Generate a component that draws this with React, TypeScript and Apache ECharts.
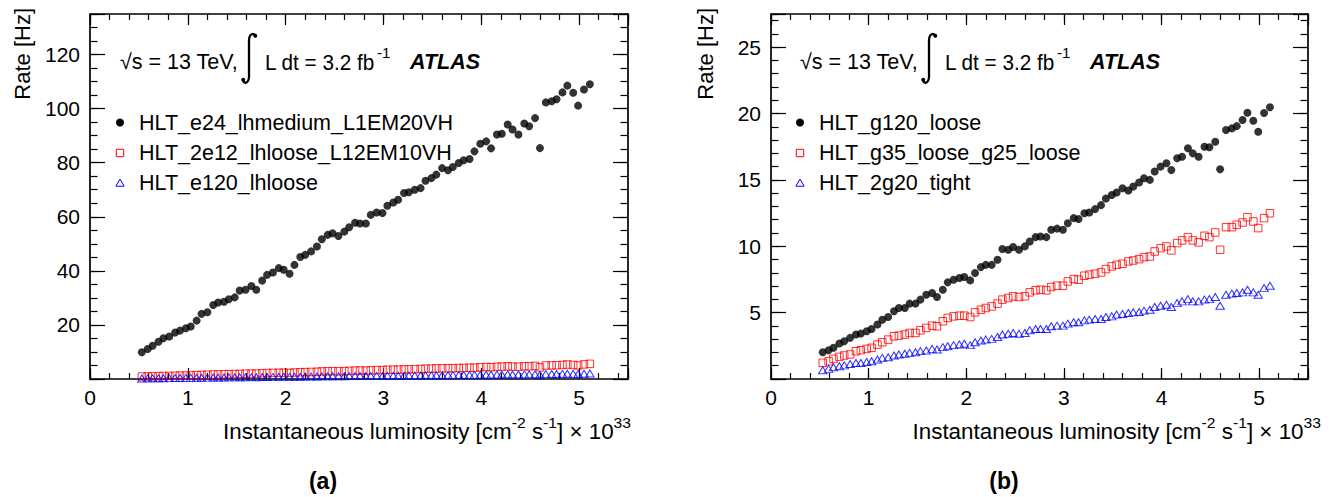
import React, { useEffect, useRef } from "react";
import * as echarts from "echarts";

// ---------- data ----------
const lumi = [
  0.53, 0.59, 0.64, 0.7, 0.75, 0.81, 0.87, 0.92, 0.98, 1.03,
  1.09, 1.14, 1.2, 1.26, 1.31, 1.37, 1.42, 1.48, 1.53, 1.59,
  1.65, 1.7, 1.76, 1.81, 1.87, 1.93, 1.98, 2.04, 2.09, 2.15,
  2.2, 2.26, 2.32, 2.37, 2.43, 2.48, 2.54, 2.6, 2.65, 2.71,
  2.76, 2.82, 2.87, 2.93, 2.99, 3.04, 3.1, 3.15, 3.21, 3.26,
  3.32, 3.38, 3.43, 3.49, 3.54, 3.6, 3.66, 3.71, 3.77, 3.82,
  3.88, 3.93, 3.99, 4.05, 4.1, 4.16, 4.21, 4.27, 4.32, 4.38,
  4.44, 4.49, 4.55, 4.6, 4.66, 4.72, 4.77, 4.83, 4.88, 4.94,
  4.99, 5.05, 5.11,
];

// (a) electron triggers
const eBlack = [
  9.9, 11.1, 12.3, 13.8, 15.1, 15.7, 17.2, 17.9, 18.8, 19.4,
  21.6, 24.1, 24.7, 27.4, 28.3, 28.6, 29.5, 30.2, 32.7, 33.0,
  34.4, 33.0, 36.4, 38.5, 39.4, 41.0, 40.4, 38.9, 42.2, 45.1,
  45.9, 47.2, 49.0, 51.7, 53.3, 53.9, 52.9, 54.5, 56.1, 57.8,
  57.5, 57.5, 60.7, 61.6, 61.4, 64.1, 65.3, 66.3, 68.8, 69.1,
  70.0, 70.6, 73.3, 74.3, 75.6, 78.0, 77.2, 78.4, 79.9, 80.9,
  81.4, 84.2, 87.0, 87.9, 85.3, 90.4, 90.7, 94.1, 92.3, 90.4,
  94.5, 93.5, 96.5, 85.4, 102.3, 102.7, 103.5, 106.0, 108.5, 105.9,
  101.1, 107.1, 109.0,
];
const eRed = [
  0.9, 0.95, 1.0, 1.05, 1.1, 1.15, 1.2, 1.25, 1.3, 1.35,
  1.45, 1.5, 1.55, 1.65, 1.7, 1.75, 1.8, 1.8, 1.9, 1.95,
  2.0, 2.0, 2.1, 2.2, 2.25, 2.3, 2.3, 2.25, 2.4, 2.5,
  2.55, 2.6, 2.65, 2.8, 2.85, 2.9, 2.85, 2.9, 3.0, 3.1,
  3.15, 3.1, 3.2, 3.3, 3.3, 3.4, 3.45, 3.45, 3.55, 3.6,
  3.65, 3.7, 3.8, 3.85, 3.9, 3.95, 3.95, 4.0, 4.05, 4.1,
  4.15, 4.2, 4.35, 4.45, 4.35, 4.5, 4.6, 4.7, 4.6, 4.55,
  4.75, 4.7, 4.85, 4.3, 5.0, 5.05, 5.1, 5.2, 5.35, 5.2,
  5.0, 5.4, 5.6,
];
const eBlue = [
  0.2, 0.22, 0.25, 0.28, 0.3, 0.32, 0.35, 0.37, 0.4, 0.42,
  0.45, 0.48, 0.5, 0.53, 0.55, 0.57, 0.6, 0.6, 0.63, 0.66,
  0.68, 0.66, 0.72, 0.75, 0.77, 0.79, 0.8, 0.78, 0.83, 0.86,
  0.88, 0.9, 0.92, 0.97, 0.98, 1.0, 0.99, 1.01, 1.05, 1.08,
  1.09, 1.08, 1.12, 1.14, 1.13, 1.17, 1.2, 1.19, 1.23, 1.25,
  1.27, 1.3, 1.33, 1.35, 1.38, 1.4, 1.4, 1.42, 1.45, 1.47,
  1.5, 1.52, 1.57, 1.6, 1.55, 1.63, 1.66, 1.7, 1.68, 1.66,
  1.72, 1.72, 1.76, 1.55, 1.82, 1.84, 1.86, 1.9, 1.95, 1.9,
  1.83, 1.97, 2.02,
];

// (b) photon triggers
const gBlack = [
  2.02, 2.17, 2.35, 2.67, 2.84, 3.1, 3.35, 3.42, 3.6, 3.77,
  4.1, 4.47, 4.67, 5.1, 5.35, 5.35, 5.68, 5.68, 5.98, 6.35,
  6.48, 6.18, 6.73, 7.28, 7.48, 7.61, 7.68, 7.43, 7.98, 8.43,
  8.6, 8.6, 8.98, 9.79, 9.74, 9.94, 9.74, 9.99, 10.36, 10.69,
  10.74, 10.69, 11.24, 11.33, 11.24, 11.74, 12.12, 12.05, 12.49, 12.54,
  12.8, 13.1, 13.6, 13.86, 14.05, 14.37, 14.2, 14.5, 14.8, 15.13,
  15.0, 15.63, 16.0, 16.25, 15.74, 16.63, 16.75, 17.38, 17.0, 16.75,
  17.5, 17.46, 17.88, 15.8, 18.76, 18.88, 19.05, 19.51, 20.06, 19.46,
  18.63, 20.04, 20.47,
];
const gRed = [
  1.22, 1.34, 1.52, 1.67, 1.77, 1.85, 2.09, 2.17, 2.27, 2.35,
  2.59, 2.77, 2.97, 3.22, 3.27, 3.35, 3.47, 3.47, 3.67, 3.85,
  4.02, 3.97, 4.35, 4.6, 4.72, 4.77, 4.77, 4.67, 5.02, 5.22,
  5.35, 5.47, 5.68, 5.98, 6.1, 6.23, 6.18, 6.23, 6.53, 6.68,
  6.73, 6.68, 6.93, 7.03, 7.03, 7.35, 7.53, 7.48, 7.78, 7.86,
  7.93, 8.03, 8.28, 8.48, 8.6, 8.68, 8.86, 8.93, 9.03, 9.18,
  9.23, 9.61, 9.86, 9.99, 9.69, 10.24, 10.44, 10.69, 10.44, 10.29,
  10.79, 10.69, 11.04, 9.74, 11.44, 11.44, 11.62, 11.79, 12.19, 11.87,
  11.37, 12.12, 12.49,
];
const gBlue = [
  0.66, 0.76, 0.88, 0.96, 1.03, 1.13, 1.2, 1.2, 1.28, 1.34,
  1.47, 1.59, 1.64, 1.77, 1.85, 1.9, 1.97, 2.02, 2.1, 2.15,
  2.27, 2.22, 2.4, 2.47, 2.55, 2.6, 2.65, 2.55, 2.77, 2.9,
  2.97, 3.02, 3.17, 3.35, 3.4, 3.47, 3.4, 3.47, 3.67, 3.77,
  3.77, 3.77, 3.97, 4.02, 4.02, 4.17, 4.27, 4.27, 4.42, 4.47,
  4.52, 4.52, 4.67, 4.72, 4.85, 4.9, 4.97, 5.02, 5.05, 5.15,
  5.22, 5.42, 5.52, 5.6, 5.42, 5.72, 5.85, 6.02, 5.85, 5.85,
  5.98, 6.02, 6.18, 5.52, 6.35, 6.43, 6.48, 6.53, 6.73, 6.53,
  6.35, 6.85, 7.03,
];

const xTickLabels = [0, 1, 2, 3, 4, 5];
const yTickLabelsA = [20, 40, 60, 80, 100, 120];
const yTickLabelsB = [5, 10, 15, 20, 25];
const legendA = ["HLT_e24_lhmedium_L1EM20VH", "HLT_2e12_lhloose_L12EM10VH", "HLT_e120_lhloose"];
const legendB = ["HLT_g120_loose", "HLT_g35_loose_g25_loose", "HLT_2g20_tight"];

const FONT = "'Liberation Sans', Arial, Helvetica, sans-serif";
const FS = 21.5;

echarts.graphic.registerShape(
  "integral",
  echarts.graphic.extendPath("M 0 47 C 1 51.5 5.5 50.5 6 44 L 6 7 C 6.5 0.5 10.5 -0.5 12.5 3", {}) as any
);

export default function App() {
  const ref = useRef<HTMLDivElement>(null);
  useEffect(() => {
    const el = ref.current!;
    const chart = echarts.init(el, undefined, { renderer: "svg" });
    const ctx = document.createElement("canvas").getContext("2d")!;
    const measure = (t: string, size: number, weight = "normal", style = "normal") => {
      ctx.font = `${style} ${weight} ${size}px ${FONT}`;
      return ctx.measureText(t).width;
    };

    const text = (x: number, y: number, t: string, o: any = {}) => ({
      type: "text",
      x,
      y,
      rotation: o.rot || 0,
      scaleX: o.sx ?? 1,
      scaleY: o.sy ?? 1,
      z: 50,
      style: {
        text: t,
        fill: o.color || "#000",
        fontSize: o.size || FS,
        fontFamily: FONT,
        fontWeight: o.weight || "normal",
        fontStyle: o.fstyle || "normal",
        textAlign: o.align || "left",
        align: o.align || "left",
        textVerticalAlign: "middle",
        verticalAlign: "middle",
      },
    });

    const xTitle = (left: number, right: number) => {
      const segs = [
        { t: "Instantaneous luminosity [cm", sup: false },
        { t: "-2", sup: true },
        { t: " s", sup: false },
        { t: "-1", sup: true },
        { t: "] \u00d7 10", sup: false },
        { t: "33", sup: true },
      ];
      const ws = segs.map((s) => measure(s.t, s.sup ? 15 : FS));
      const total = ws.reduce((a, b) => a + b, 0);
      const sx = (right - left) / total;
      let x = left;
      const out: any[] = [];
      segs.forEach((s, i) => {
        out.push(text(x, s.sup ? 423 : 432, s.t, { size: s.sup ? 15 : FS, sx }));
        x += ws[i] * sx;
      });
      return out;
    };

    const panel = (ox: number, yTitleX: number, names: string[], tl: number, tr: number, lab: string, labX: number) => {
      const els: any[] = [];
      els.push(text(yTitleX, 8, "Rate [Hz]", { rot: Math.PI / 2, align: "right", size: 22 }));
      els.push(text(120 + ox, 62, "\u221as = 13 TeV,"));
      els.push({ type: "integral", x: 243 + ox, y: 33, z: 50, style: { stroke: "#000", lineWidth: 2.3, fill: "none" } });
      els.push({ type: "circle", z: 50, shape: { cx: 243.2 + ox, cy: 79.8, r: 2 }, style: { fill: "#000" } });
      els.push({ type: "circle", z: 50, shape: { cx: 255.3 + ox, cy: 35.8, r: 2 }, style: { fill: "#000" } });
      const ldt = "L dt = 3.2 fb";
      const ldtSx = 110 / measure(ldt, FS);
      els.push(text(265 + ox, 62, ldt, { sx: ldtSx }));
      els.push(text(265 + ox + 110 + 2, 52, "-1", { size: 15 }));
      els.push(text(410 + ox, 62, "ATLAS", { weight: "bold", fstyle: "italic" }));
      const rows = [122.5, 153, 183];
      const mx = 120 + ox;
      els.push({ type: "circle", z: 50, shape: { cx: mx, cy: rows[0], r: 4 }, style: { fill: "#000" } });
      els.push({ type: "rect", z: 50, shape: { x: mx - 3.7, y: rows[1] - 3.7, width: 7.4, height: 7.4 }, style: { fill: "none", stroke: "#ff0000", lineWidth: 1 } });
      els.push({
        type: "polygon",
        z: 50,
        shape: { points: [[mx, rows[2] - 3.8], [mx + 4.2, rows[2] + 3.2], [mx - 4.2, rows[2] + 3.2]] },
        style: { fill: "none", stroke: "#0000ff", lineWidth: 1 },
      });
      names.forEach((n, i) => els.push(text(139 + ox, rows[i], n)));
      els.push(...xTitle(tl, tr));
      els.push(text(labX, 481, lab, { weight: "bold", align: "center", size: 23 }));
      return els;
    };

    const near = (arr: number[], v: number) => arr.some((t) => Math.abs(t - v) < 1e-6);
    const lineStyle = { color: "#000", width: 1.7 };
    const tickStyle = { color: "#000", width: 1.2 };
    const labelStyle = { color: "#000", fontSize: 21, fontFamily: FONT };
    const xAx = (g: number, pos: string, interval: number, len: number, labels: boolean, line: boolean) => ({
      gridIndex: g,
      type: "value",
      position: pos,
      min: 0,
      max: 5.5,
      interval,
      axisLine: { show: line, onZero: false, lineStyle },
      axisTick: { show: true, inside: true, length: len, lineStyle: tickStyle },
      axisLabel: labels
        ? { show: true, margin: 8, ...labelStyle, formatter: (v: number) => (near(xTickLabels, v) ? String(Math.round(v)) : "") }
        : { show: false },
      splitLine: { show: false },
    });
    const yAx = (g: number, pos: string, max: number, interval: number, len: number, labels: number[] | null, line: boolean) => ({
      gridIndex: g,
      type: "value",
      position: pos,
      min: 0,
      max,
      interval,
      axisLine: { show: line, onZero: false, lineStyle },
      axisTick: { show: true, inside: true, length: len, lineStyle: tickStyle },
      axisLabel: labels
        ? { show: true, margin: 10, ...labelStyle, formatter: (v: number) => (near(labels, v) ? String(Math.round(v)) : "") }
        : { show: false },
      splitLine: { show: false },
    });

    const xAxis: any[] = [];
    const yAxis: any[] = [];
    [0, 1].forEach((g) => {
      xAxis.push(xAx(g, "bottom", 1, 11, true, true));
      xAxis.push(xAx(g, "bottom", 0.2, 6, false, false));
      xAxis.push(xAx(g, "top", 1, 11, false, true));
      xAxis.push(xAx(g, "top", 0.2, 6, false, false));
    });
    yAxis.push(yAx(0, "left", 135, 20, 15, yTickLabelsA, true));
    yAxis.push(yAx(0, "left", 135, 5, 7.5, null, false));
    yAxis.push(yAx(0, "right", 135, 20, 15, null, true));
    yAxis.push(yAx(0, "right", 135, 5, 7.5, null, false));
    yAxis.push(yAx(1, "left", 27.5, 5, 15, yTickLabelsB, true));
    yAxis.push(yAx(1, "left", 27.5, 1, 7.5, null, false));
    yAxis.push(yAx(1, "right", 27.5, 5, 15, null, true));
    yAxis.push(yAx(1, "right", 27.5, 1, 7.5, null, false));

    const pts = (ys: number[]) => lumi.map((x, i) => [x, ys[i]]);
    const dot = (g: number, ys: number[]) => ({
      type: "scatter",
      xAxisIndex: g * 4,
      yAxisIndex: g * 4,
      data: pts(ys),
      symbol: "circle",
      symbolSize: 8,
      itemStyle: { color: "#000" },
      z: 3,
    });
    const sq = (g: number, ys: number[]) => ({
      type: "scatter",
      xAxisIndex: g * 4,
      yAxisIndex: g * 4,
      data: pts(ys),
      symbol: "rect",
      symbolSize: 7.5,
      itemStyle: { color: "rgba(0,0,0,0)", borderColor: "#ff0000", borderWidth: 1 },
      z: 2,
    });
    const tri = (g: number, ys: number[]) => ({
      type: "scatter",
      xAxisIndex: g * 4,
      yAxisIndex: g * 4,
      data: pts(ys),
      symbol: "triangle",
      symbolSize: [8.5, 7],
      itemStyle: { color: "rgba(0,0,0,0)", borderColor: "#0000ff", borderWidth: 1 },
      z: 2,
    });

    chart.setOption({
      animation: false,
      backgroundColor: "#fff",
      grid: [
        { left: 90, top: 14, width: 538, height: 365 },
        { left: 771, top: 14, width: 537, height: 365 },
      ],
      xAxis,
      yAxis,
      series: [
        sq(0, eRed), tri(0, eBlue), dot(0, eBlack),
        sq(1, gRed), tri(1, gBlue), dot(1, gBlack),
      ].map((s) => ({ ...s, silent: true })),
      graphic: [
        ...panel(0, 22, legendA, 223, 631, "(a)", 323),
        ...panel(680, 705, legendB, 912.5, 1321, "(b)", 1004),
      ],
    });
    return () => chart.dispose();
  }, []);
  return (
    <div
      ref={ref}
      style={{ position: "fixed", left: 0, top: 0, width: 1337, height: 497, background: "#fff" }}
    />
  );
}
